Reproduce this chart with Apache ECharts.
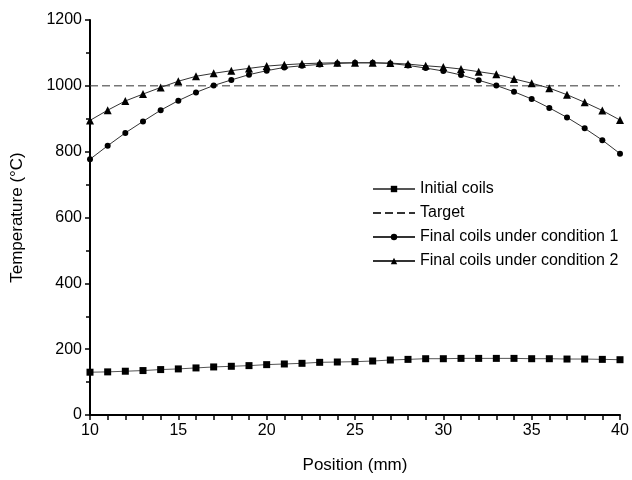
<!DOCTYPE html>
<html><head><meta charset="utf-8">
<script src="https://cdn.jsdelivr.net/npm/echarts@6/dist/echarts.min.js"></script>
<style>html,body{margin:0;padding:0;background:#fff}#c{width:632px;height:480px}</style>
</head><body><div id="c"></div>
<script>
const positions = [10,11,12,13,14,15,16,17,18,19,20,21,22,23,24,25,26,27,28,29,30,31,32,33,34,35,36,37,38,39,40];
const initialCoils = [130,131,133,135,138,140,143,146,148,150,153,155,157,160,161,162,164,167,169,171,171,172,172,172,172,171,171,170,170,169,168];
const targetX = [10,40];
const targetValue = 1000;
const condition1 = [777,818,857,892,926,955,980,1001,1018,1034,1046,1056,1061,1065,1068,1070,1070,1068,1062,1054,1045,1033,1017,1001,982,960,933,904,871,835,794];
const condition2 = [895,926,954,975,995,1014,1029,1038,1046,1053,1060,1064,1067,1069,1070,1070,1070,1069,1066,1061,1057,1051,1043,1035,1021,1008,993,973,950,925,896];
const seriesNames = ['Initial coils','Target','Final coils under condition 1','Final coils under condition 2'];

const pair = (ys) => positions.map((x,i)=>[x, ys[i]]);
const font = 'Liberation Sans';
const chart = echarts.init(document.getElementById('c'));
chart.setOption({
  animation:false,
  backgroundColor:'#fff',
  grid:{left:90,right:12,top:20,bottom:65,containLabel:false},
  legend:{
    orient:'vertical', left:367, top:176, itemGap:8, itemWidth:42, itemHeight:8,
    textStyle:{fontFamily:font,fontSize:16,color:'#000'},
    data:[seriesNames[0],{name:seriesNames[1],itemStyle:{opacity:0}},seriesNames[2],seriesNames[3]]
  },
  xAxis:{
    type:'value', min:10, max:40, interval:5,
    name:'Position (mm)', nameLocation:'middle', nameGap:42,
    nameTextStyle:{fontFamily:font,fontSize:17,color:'#000'},
    axisLine:{lineStyle:{color:'#000',width:2}},
    axisTick:{length:5,lineStyle:{color:'#000',width:1.5}},
    minorTick:{show:true,splitNumber:5,length:5,lineStyle:{color:'#000',width:1.5}},
    axisLabel:{fontFamily:font,fontSize:16,color:'#000',margin:8},
    splitLine:{show:false}
  },
  yAxis:{
    type:'value', min:0, max:1200, interval:200,
    name:'Temperature (°C)', nameLocation:'middle', nameGap:64,
    nameTextStyle:{fontFamily:font,fontSize:17,color:'#000'},
    axisLine:{show:true,lineStyle:{color:'#000',width:2}},
    axisTick:{show:true,length:5,lineStyle:{color:'#000',width:1.5}},
    minorTick:{show:true,splitNumber:2,length:4,lineStyle:{color:'#000',width:1.5}},
    axisLabel:{fontFamily:font,fontSize:16,color:'#000',margin:8,formatter:(v)=>String(v)},
    splitLine:{show:false}
  },
  series:[
    {name:seriesNames[0],type:'line',data:pair(initialCoils),symbol:'rect',symbolSize:7,
     itemStyle:{color:'#000'},lineStyle:{color:'#555',width:1}},
    {name:seriesNames[1],type:'line',data:targetX.map(x=>[x,targetValue]),symbol:'none',
     itemStyle:{color:'#333'},lineStyle:{color:'#333',width:1,type:[8,4]}},
    {name:seriesNames[2],type:'line',data:pair(condition1),symbol:'circle',symbolSize:6,
     itemStyle:{color:'#000'},lineStyle:{color:'#333',width:1}},
    {name:seriesNames[3],type:'line',data:pair(condition2),symbol:'triangle',symbolSize:8,
     itemStyle:{color:'#000'},lineStyle:{color:'#333',width:1}}
  ]
});
</script></body></html>
